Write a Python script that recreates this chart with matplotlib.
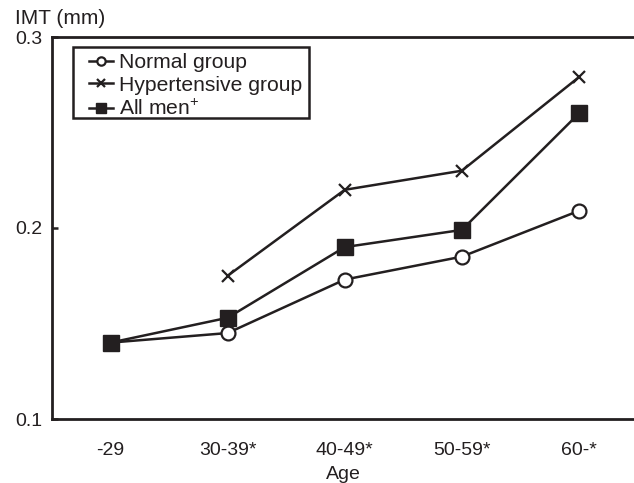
import matplotlib
matplotlib.use("Agg")
import matplotlib.pyplot as plt
from matplotlib.patches import Rectangle

plt.rcParams["font.family"] = ["Liberation Sans", "DejaVu Sans"]

AGE_GROUPS = ["-29", "30-39*", "40-49*", "50-59*", "60-*"]
NORMAL = [0.140, 0.145, 0.173, 0.185, 0.209]
HYPERTENSIVE = [None, 0.175, 0.220, 0.230, 0.279]
ALL_MEN = [0.140, 0.153, 0.190, 0.199, 0.260]
Y_TICKS = [0.1, 0.2, 0.3]

INK = "#231f20"
W, H = 634, 483

fig = plt.figure(figsize=(W / 100, H / 100), dpi=100, facecolor="white")
ax = fig.add_axes([52 / W, (H - 419) / H, (634 - 52) / W, (419 - 37) / H])

x = list(range(len(AGE_GROUPS)))
hx = [i for i, v in zip(x, HYPERTENSIVE) if v is not None]
hy = [v for v in HYPERTENSIVE if v is not None]

ax.plot(x, NORMAL, color=INK, lw=1.8, marker="o", ms=10, mfc="white",
        mec=INK, mew=1.6, label="Normal group", zorder=3)
ax.plot(hx, hy, color=INK, lw=1.8, marker="x", ms=9, mew=1.6,
        label="Hypertensive group", zorder=3)
ax.plot(x, ALL_MEN, color=INK, lw=1.8, marker="s", ms=11, mfc=INK,
        mec=INK, label="All men$^{\\mathregular{+}}$", zorder=4)

ax.set_xlim(-0.5, 4.47)
ax.set_ylim(0.1, 0.3)
ax.set_xticks(x)
ax.set_xticklabels(AGE_GROUPS, fontsize=14, color=INK)
ax.set_yticks(Y_TICKS)
ax.set_yticklabels([f"{v:.1f}" for v in Y_TICKS], fontsize=14, color=INK)
ax.tick_params(axis="x", length=0, pad=16.5)
ax.tick_params(axis="y", direction="in", length=4, width=1.8, color=INK, pad=7)

ax.spines["right"].set_visible(False)
for s in ["left", "bottom", "top"]:
    ax.spines[s].set_linewidth(2)
    ax.spines[s].set_color(INK)

ax.set_xlabel("Age", fontsize=14, color=INK, labelpad=5)
fig.text(15 / W, 1 - 18 / H, "IMT (mm)", fontsize=15, color=INK,
         ha="left", va="center")

# legend without its own frame; the box is drawn separately
leg = ax.legend(loc="upper left", bbox_to_anchor=(89 / W, 1 - 53 / H),
                bbox_transform=fig.transFigure, borderaxespad=0, borderpad=0,
                fontsize=15.2, frameon=False, handlelength=1.15,
                handletextpad=0.25, labelspacing=0.18, markerscale=0.6)
for t in leg.get_texts():
    t.set_color(INK)

fig.patches.append(Rectangle((73 / W, 1 - 118 / H), (309 - 73) / W,
                             (118 - 47) / H, transform=fig.transFigure,
                             fill=False, edgecolor=INK, linewidth=1.8,
                             zorder=5))

fig.savefig("out.png", dpi=100, facecolor="white")
